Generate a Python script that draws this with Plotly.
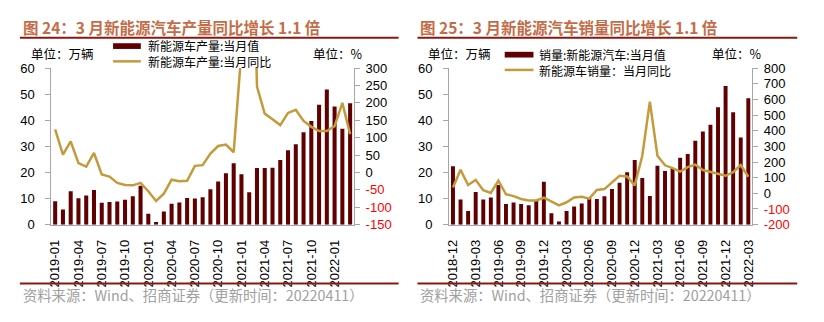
import plotly.graph_objects as go

# ---- data -------------------------------------------------------------
def month_range(y0, m0, y1, m1):
    out = []
    y, m = y0, m0
    while (y, m) <= (y1, m1):
        out.append(f"{y}-{m:02d}")
        m += 1
        if m > 12:
            y, m = y + 1, 1
    return out

prod_months = month_range(2019, 1, 2022, 3)
prod_value = [9.0, 5.8, 12.8, 10.1, 11.2, 13.3, 8.4, 8.7, 8.9, 9.5, 10.9, 14.9,
              4.2, 1.0, 5.0, 8.0, 8.5, 10.2, 10.0, 10.5, 13.6, 16.5, 19.7, 23.5,
              19.3, 12.4, 21.7, 21.7, 21.8, 24.8, 28.5, 30.8, 35.4, 39.7, 45.9, 51.8,
              45.3, 36.7, 46.5]
prod_yoy = [124, 51, 89, 27, 17, 56, -6, -12, -30, -36, -37, -30,
            -54, -82, -61, -21, -25, -24, 19, 21, 54, 76, 80, 58,
            350, 1140, 247, 169, 153, 136, 171, 180, 148, 131, 119, 119,
            133, 200, 110]
prod_labels = prod_months[::3]

sales_months = month_range(2018, 12, 2022, 3)
sales_value = [22.4, 9.6, 5.2, 12.5, 9.6, 10.4, 15.2, 7.9, 8.5, 7.9, 7.4, 9.1,
               16.4, 4.4, 1.2, 5.2, 7.0, 8.1, 10.1, 9.8, 10.9, 13.7, 16.1, 20.1,
               24.8, 17.9, 11.0, 22.6, 20.6, 21.7, 25.6, 27.1, 32.1, 35.7, 38.3, 45.0,
               53.1, 43.1, 33.4, 48.4]
sales_yoy = [37, 150, 53, 85, 20, 2, 81, -6, -18, -36, -46, -45,
             -28, -55, -77, -57, -26, -22, -34, 22, 27, 70, 112, 108,
             51, 240, 585, 240, 179, 161, 139, 167, 183, 149, 135, 125,
             112, 135, 181, 106]
sales_labels = sales_months[::3]

left_ticks = list(range(0, 61, 10))
prod_yoy_ticks = list(range(-150, 301, 50))
sales_yoy_ticks = list(range(-200, 801, 100))

# ---- styling ------------------------------------------------------------
W, H = 824, 322
BAR = "#600000"
LINE = "#C49A3C"
RULE = "#8A1812"
TITLE = "#C56C47"
AXIS = "#A6A6A6"
NUM_FONT = "Arial, Liberation Sans, sans-serif"
CJK_FONT = "Noto Sans CJK SC, sans-serif"


def px(x):
    return x / W


def py(y):
    return 1 - y / H


def pct_text(vals):
    out = []
    for v in vals:
        if v < 0:
            out.append(f'<span style="color:#FF0000">{v}</span>')
        else:
            out.append(str(v))
    return out


fig = go.Figure()

fig.add_trace(go.Bar(x=prod_months, y=prod_value, marker_color=BAR,
                     marker_line_width=0, xaxis="x", yaxis="y"))
fig.add_trace(go.Scatter(x=prod_months, y=prod_yoy, mode="lines",
                         line=dict(color=LINE, width=2.5), xaxis="x", yaxis="y2"))
fig.add_trace(go.Bar(x=sales_months, y=sales_value, marker_color=BAR,
                     marker_line_width=0, xaxis="x2", yaxis="y3"))
fig.add_trace(go.Scatter(x=sales_months, y=sales_yoy, mode="lines",
                         line=dict(color=LINE, width=2.5), xaxis="x2", yaxis="y4"))

ydom = [py(228.3), py(64)]
dom_l = [px(47.7), px(353)]
dom_r = [px(449), px(754.5)]

tick_font = dict(family=NUM_FONT, size=13, color="#000000")

def cat_axis(domain, cats, labels, anchor):
    return dict(domain=domain, anchor=anchor, type="category",
                categoryorder="array", categoryarray=cats,
                range=[-0.5, len(cats) - 0.5],
                tickmode="array", tickvals=labels, ticktext=labels,
                tickangle=-90, ticks="", ticklabelstandoff=9,
                showline=True, linecolor=AXIS, linewidth=1,
                showgrid=False, zeroline=False, tickfont=tick_font)

def boundary_axis(over, anchor, n):
    bounds = [-0.5 + 3 * k for k in range(14)]
    return dict(overlaying=over, anchor=anchor, type="linear",
                range=[-0.5, n - 0.5], tickmode="array", tickvals=bounds,
                ticks="outside", ticklen=5, tickcolor=AXIS, tickwidth=1,
                showticklabels=False, showgrid=False, zeroline=False,
                showline=False)

def val_axis(anchor, rng, vals, text, side="left", overlay=None):
    d = dict(anchor=anchor, range=rng, tickmode="array", tickvals=vals,
             ticktext=text, ticks="outside", ticklen=5, tickcolor=AXIS,
             showline=True, linecolor=AXIS, linewidth=1, showgrid=False,
             zeroline=False, tickfont=tick_font, side=side)
    if overlay:
        d["overlaying"] = overlay
        d["ticklabelstandoff"] = 3
    else:
        d["domain"] = ydom
        d["ticklabelstandoff"] = 8
    return d

fig.update_layout(
    width=W, height=H, autosize=False,
    margin=dict(l=0, r=0, t=0, b=0),
    paper_bgcolor="white", plot_bgcolor="white",
    showlegend=False, bargap=0.48,
    xaxis=cat_axis(dom_l, prod_months, prod_labels, "y"),
    xaxis2=cat_axis(dom_r, sales_months, sales_labels, "y3"),
    xaxis3=boundary_axis("x", "y", len(prod_months)),
    xaxis4=boundary_axis("x2", "y3", len(sales_months)),
    yaxis=val_axis("x", [0, 60], left_ticks, [str(v) for v in left_ticks]),
    yaxis2=val_axis("x", [-150, 300], prod_yoy_ticks, pct_text(prod_yoy_ticks),
                    side="right", overlay="y"),
    yaxis3=val_axis("x2", [0, 60], left_ticks, [str(v) for v in left_ticks]),
    yaxis4=val_axis("x2", [-200, 800], sales_yoy_ticks, pct_text(sales_yoy_ticks),
                    side="right", overlay="y3"),
)

shapes = []
annots = []

def text(x, y, s, size=13, color="#000000", family=CJK_FONT):
    annots.append(dict(x=px(x), y=py(y), xref="paper", yref="paper",
                       xanchor="left", yanchor="middle", text=s,
                       showarrow=False, font=dict(family=family, size=size, color=color)))

def rule(x0, x1, y):
    shapes.append(dict(type="line", xref="paper", yref="paper",
                       x0=px(x0), x1=px(x1), y0=py(y), y1=py(y),
                       line=dict(color=RULE, width=2)))

# panel titles, rules and source notes
for x0, x1, title in [(16, 398, "图 24：3 月新能源汽车产量同比增长 1.1 倍"),
                      (417, 800, "图 25：3 月新能源汽车销量同比增长 1.1 倍")]:
    text(x0 + 1, 20.5, f"<b>{title}</b>", size=15.5, color=TITLE)
    rule(x0, x1, 32.3)
    rule(x0, x1, 290)
    text(x0 + 1, 302, "资料来源：Wind、招商证券（更新时间：20220411）",
         size=14.3, color="#A0A0A0")

# unit labels
LEG = 12
text(25, 49, "单位：万辆", size=12.5)
text(310, 49, "单位：%", size=12.5)
text(426, 49, "单位：万辆", size=12.5)
text(712, 49, "单位：%", size=12.5)

# legend keys
def bar_key(x0, x1, yc):
    shapes.append(dict(type="rect", xref="paper", yref="paper",
                       x0=px(x0), x1=px(x1), y0=py(yc + 3), y1=py(yc - 3),
                       fillcolor=BAR, line=dict(width=0)))

def line_key(x0, x1, yc):
    shapes.append(dict(type="line", xref="paper", yref="paper",
                       x0=px(x0), x1=px(x1), y0=py(yc), y1=py(yc),
                       line=dict(color=LINE, width=2.5)))

bar_key(110, 138, 41)
text(143, 40.5, "新能源车产量:当月值", size=LEG)
line_key(110, 138, 57)
text(143, 57.5, "新能源车产量:当月同比", size=LEG)

bar_key(505, 534, 50)
text(537.5, 49.5, "销量:新能源汽车:当月值", size=LEG)
line_key(505, 534, 66)
text(537.5, 66.5, "新能源车销量：当月同比", size=LEG)

fig.update_layout(shapes=shapes, annotations=annots)

fig.write_html("out.html")
